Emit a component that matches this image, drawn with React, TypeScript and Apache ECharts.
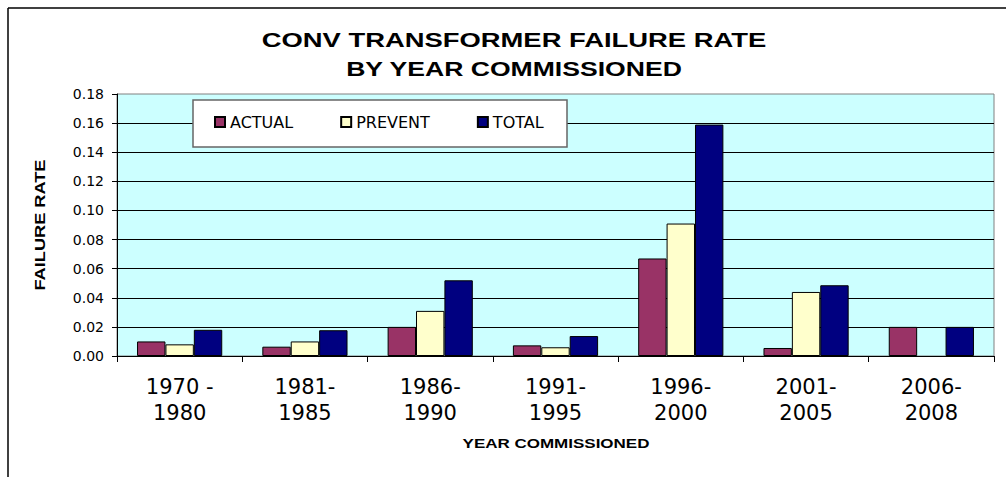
import React, { useEffect, useRef } from "react";
import * as echarts from "echarts";

const categories = [
  "1970 -\n1980",
  "1981-\n1985",
  "1986-\n1990",
  "1991-\n1995",
  "1996-\n2000",
  "2001-\n2005",
  "2006-\n2008",
];
const actual = [0.010, 0.0064, 0.020, 0.0073, 0.067, 0.0055, 0.020];
const prevent = [0.008, 0.010, 0.031, 0.006, 0.091, 0.044, 0];
const total = [0.018, 0.0177, 0.052, 0.0137, 0.159, 0.0486, 0.020];
const yTicks = { min: 0, max: 0.18, interval: 0.02 };
const titleLines = ["CONV TRANSFORMER FAILURE RATE", "BY YEAR COMMISSIONED"];
const xAxisName = "YEAR COMMISSIONED";
const yAxisName = "FAILURE RATE";

const FONT = '"DejaVu Sans", Arial, sans-serif';
const ARIAL = '"Liberation Sans", Arial, sans-serif';

export default function App() {
  const ref = useRef<HTMLDivElement>(null);
  useEffect(() => {
    if (!ref.current) return;
    const chart = echarts.init(ref.current, null, { renderer: "svg" });
    const toData = (arr: number[]) => arr.map((v) => (v === 0 ? null : v));
    const barStyle = (color: string) => ({ color, borderColor: "#000", borderWidth: 1 });
    const txt = (text: string, x: number, y: number, size: number, scaleX: number, rotation = 0) => ({
      type: "text",
      x,
      y,
      scaleX,
      rotation,
      z: 10,
      style: {
        text,
        font: `bold ${size}px ${ARIAL}`,
        fill: "#000",
        textAlign: "center",
        textVerticalAlign: "middle",
        align: "center",
        verticalAlign: "middle",
      },
    });
    chart.setOption({
      animation: false,
      backgroundColor: "#fff",
      textStyle: { fontFamily: FONT, color: "#000" },
      graphic: [
        { type: "line", shape: { x1: 8, y1: 8, x2: 1006, y2: 8 }, style: { stroke: "#000", lineWidth: 1.5 }, z: 10 },
        { type: "line", shape: { x1: 8, y1: 8, x2: 8, y2: 477 }, style: { stroke: "#000", lineWidth: 1.5 }, z: 10 },
        txt(titleLines[0], 514, 40, 20, 1.37),
        txt(titleLines[1], 514, 69, 20, 1.33),
        txt(xAxisName, 556, 443, 12.5, 1.36),
        txt(yAxisName, 40, 225, 14, 1.3, Math.PI / 2),
        {
          type: "rect",
          z: 3,
          shape: { x: 193, y: 100, width: 374, height: 47 },
          style: { fill: "#fff", stroke: "#666", lineWidth: 1.5 },
        },
      ],
      legend: {
        left: 214,
        top: 114,
        padding: 0,
        itemWidth: 10,
        itemHeight: 10,
        itemGap: 47,
        z: 5,
        icon: "rect",
        textStyle: { fontFamily: FONT, fontSize: 16, color: "#000" },
        data: ["ACTUAL", "PREVENT", "TOTAL"],
      },
      grid: {
        left: 117,
        right: 12,
        top: 94,
        bottom: 121,
        show: true,
        backgroundColor: "#CCFFFF",
        borderColor: "#808080",
        borderWidth: 1,
      },
      xAxis: {
        type: "category",
        data: categories,
        axisLine: { lineStyle: { color: "#000", width: 1 } },
        axisTick: { show: true, length: 6, lineStyle: { color: "#000" } },
        axisLabel: {
          fontFamily: FONT,
          fontSize: 21,
          lineHeight: 26,
          color: "#000",
          margin: 18,
          interval: 0,
        },
      },
      yAxis: {
        type: "value",
        min: yTicks.min,
        max: yTicks.max,
        interval: yTicks.interval,
        axisLine: { show: true, lineStyle: { color: "#000", width: 1 } },
        axisTick: { show: true, length: 5, lineStyle: { color: "#000" } },
        axisLabel: {
          fontFamily: FONT,
          fontSize: 14,
          color: "#000",
          margin: 13,
          formatter: (v: number) => v.toFixed(2),
        },
        splitLine: { show: true, showMaxLine: false, lineStyle: { color: "#000", width: 1 } },
      },
      series: [
        { name: "ACTUAL", type: "bar", data: toData(actual), itemStyle: barStyle("#993366"), barGap: "0%", barCategoryGap: "32%" },
        { name: "PREVENT", type: "bar", data: toData(prevent), itemStyle: barStyle("#FFFFCC"), barGap: "0%", barCategoryGap: "32%" },
        { name: "TOTAL", type: "bar", data: toData(total), itemStyle: barStyle("#000080"), barGap: "0%", barCategoryGap: "32%" },
      ],
    });
    return () => chart.dispose();
  }, []);
  return (
    <div
      ref={ref}
      style={{ position: "absolute", left: 0, top: 0, width: 1006, height: 477 }}
    />
  );
}
